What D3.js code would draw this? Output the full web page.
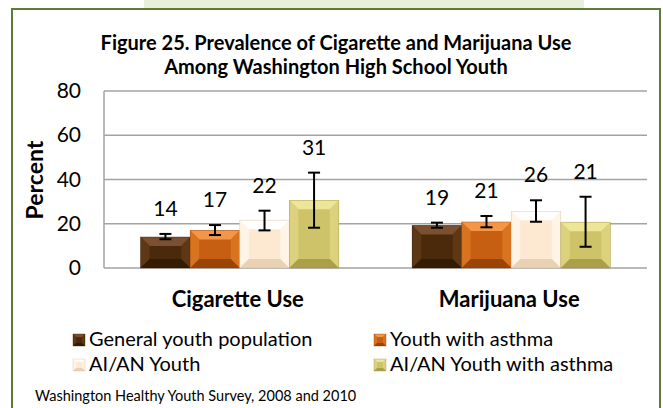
<!DOCTYPE html>
<html>
<head>
<meta charset="utf-8">
<script src="https://cdn.jsdelivr.net/npm/d3@7"></script>
<style>
  body { margin: 0; background: #fff; }
  svg { display: block; font-family: Lato, "Open Sans", sans-serif; }
</style>
</head>
<body>
<div id="chart"></div>
<script>
// data
const categories = ['Cigarette Use', 'Marijuana Use'];
const seriesNames = ['General youth population', 'Youth with asthma', 'AI/AN Youth', 'AI/AN Youth with asthma'];
const cigaretteValues = [14.0, 17.0, 21.6, 30.6];
const cigaretteLow = [13.0, 14.9, 17.0, 18.2];
const cigaretteHigh = [15.4, 19.4, 25.9, 43.1];
const marijuanaValues = [19.2, 20.8, 25.6, 20.7];
const marijuanaLow = [18.2, 18.4, 20.9, 9.6];
const marijuanaHigh = [20.5, 23.5, 30.6, 32.2];
const yTicks = [0, 20, 40, 60, 80];

// base, light (top), mid (sides), dark (bottom)
const seriesColors = [
  { base: '#4b2a0b', top: '#7a5030', side: '#5e3816', bottom: '#331b04' },
  { base: '#c65f12', top: '#f4964a', side: '#d8731f', bottom: '#9a4405' },
  { base: '#fde9d2', top: '#ffffff', side: '#fff4e6', bottom: '#e9d1b4' },
  { base: '#cfc36a', top: '#ede598', side: '#dcd27d', bottom: '#aaa04a' }
];

const width = 663, height = 408;
const plot = { left: 104, right: 647, top: 91, bottom: 268 };

const rows = [
  { cat: categories[0], values: cigaretteValues, low: cigaretteLow, high: cigaretteHigh },
  { cat: categories[1], values: marijuanaValues, low: marijuanaLow, high: marijuanaHigh }
];

const svg = d3.select('#chart').append('svg')
  .attr('width', width)
  .attr('height', height);

// light band behind the top and outer frame
svg.append('rect').attr('x', 144).attr('y', 0).attr('width', 440).attr('height', 9).attr('fill', '#e8f0dc');
svg.append('rect').attr('x', 12).attr('y', 9).attr('width', 648).attr('height', 420)
  .attr('fill', '#fff').attr('stroke', '#5f7c34').attr('stroke-width', 2);

// title
const title = svg.append('text')
  .attr('text-anchor', 'middle')
  .attr('font-weight', 'bold')
  .attr('font-size', 20)
  .attr('fill', '#000');
title.append('tspan').attr('x', 336).attr('y', 50).text('Figure 25. Prevalence of Cigarette and Marijuana Use');
title.append('tspan').attr('x', 336).attr('y', 74).text('Among Washington High School Youth');

const y = d3.scaleLinear().domain([0, 80]).range([plot.bottom, plot.top]);
const x0 = d3.scaleBand().domain(categories).range([plot.left, plot.right]);
const x1 = d3.scaleBand().domain(seriesNames).range([0, x0.bandwidth()]).paddingOuter(0.74);

// gridlines
svg.append('g')
  .selectAll('line')
  .data(yTicks)
  .join('line')
  .attr('x1', plot.left)
  .attr('x2', plot.right)
  .attr('y1', d => y(d))
  .attr('y2', d => y(d))
  .attr('stroke', '#a3a3a3')
  .attr('stroke-width', 1.5);

svg.append('line')
  .attr('x1', plot.left).attr('x2', plot.left)
  .attr('y1', plot.top).attr('y2', plot.bottom)
  .attr('stroke', '#a3a3a3').attr('stroke-width', 1.5);

// y axis tick labels
const yAxis = svg.append('g')
  .attr('transform', `translate(${plot.left},0)`)
  .call(d3.axisLeft(y).tickValues(yTicks).tickSize(0).tickPadding(23));
yAxis.select('.domain').remove();
yAxis.selectAll('text')
  .attr('font-family', 'Lato, sans-serif')
  .attr('font-size', 21)
  .attr('fill', '#000');

svg.append('text')
  .attr('transform', 'translate(43,180) rotate(-90)')
  .attr('text-anchor', 'middle')
  .attr('font-weight', 'bold')
  .attr('font-size', 23)
  .text('Percent');

// bevelled bar
function bevelBar(g, x, yTop, w, h, c, b) {
  b = Math.min(b, h / 2, w / 2);
  const x2 = x + w, y2 = yTop + h;
  g.append('rect').attr('x', x).attr('y', yTop).attr('width', w).attr('height', h).attr('fill', c.base);
  g.append('polygon').attr('points', [[x, yTop], [x2, yTop], [x2 - b, yTop + b], [x + b, yTop + b]].join(' ')).attr('fill', c.top);
  g.append('polygon').attr('points', [[x, yTop], [x + b, yTop + b], [x + b, y2 - b], [x, y2]].join(' ')).attr('fill', c.side);
  g.append('polygon').attr('points', [[x2, yTop], [x2, y2], [x2 - b, y2 - b], [x2 - b, yTop + b]].join(' ')).attr('fill', c.side);
  g.append('polygon').attr('points', [[x, y2], [x + b, y2 - b], [x2 - b, y2 - b], [x2, y2]].join(' ')).attr('fill', c.bottom);
  g.append('rect').attr('x', x).attr('y', yTop).attr('width', w).attr('height', h)
    .attr('fill', 'none').attr('stroke', d3.color(c.bottom).darker(0.3)).attr('stroke-width', 0.6).attr('stroke-opacity', 0.6);
}

const groups = svg.append('g')
  .selectAll('g')
  .data(rows)
  .join('g')
  .attr('transform', d => `translate(${x0(d.cat)},0)`);

groups.each(function (row) {
  const g = d3.select(this);
  row.values.forEach((v, i) => {
    const bx = x1(seriesNames[i]);
    const bw = x1.bandwidth();
    bevelBar(g.append('g'), bx, y(v), bw, y(0) - y(v), seriesColors[i], 9);
    const cx = bx + bw / 2;
    const eb = g.append('g').attr('stroke', '#000').attr('stroke-width', 2);
    eb.append('line').attr('x1', cx).attr('x2', cx).attr('y1', y(row.low[i])).attr('y2', y(row.high[i]));
    eb.append('line').attr('x1', cx - 6).attr('x2', cx + 6).attr('y1', y(row.low[i])).attr('y2', y(row.low[i]));
    eb.append('line').attr('x1', cx - 6).attr('x2', cx + 6).attr('y1', y(row.high[i])).attr('y2', y(row.high[i]));
    g.append('text')
      .attr('x', cx)
      .attr('y', y(row.high[i]) - 18)
      .attr('text-anchor', 'middle')
      .attr('font-size', 21)
      .text(d3.format('.0f')(v));
  });
});

// category labels
svg.append('g')
  .selectAll('text')
  .data(categories)
  .join('text')
  .attr('x', d => x0(d) + x0.bandwidth() / 2 - 2)
  .attr('y', 307)
  .attr('text-anchor', 'middle')
  .attr('font-weight', 'bold')
  .attr('font-size', 22)
  .text(d => d);

// legend
const legendPos = [[73, 334], [374, 334], [73, 359], [374, 359]];
const legend = svg.append('g')
  .selectAll('g')
  .data(seriesNames)
  .join('g')
  .attr('transform', (d, i) => `translate(${legendPos[i][0]},${legendPos[i][1]})`);
legend.each(function (d, i) {
  bevelBar(d3.select(this), 0, 0, 12, 12, seriesColors[i], 3);
});
legend.append('text')
  .attr('x', 16)
  .attr('y', 12)
  .attr('font-size', 20)
  .text(d => d);

svg.append('text')
  .attr('x', 35)
  .attr('y', 401)
  .attr('font-size', 14.5)
  .text('Washington Healthy Youth Survey, 2008 and 2010');
</script>
</body>
</html>
